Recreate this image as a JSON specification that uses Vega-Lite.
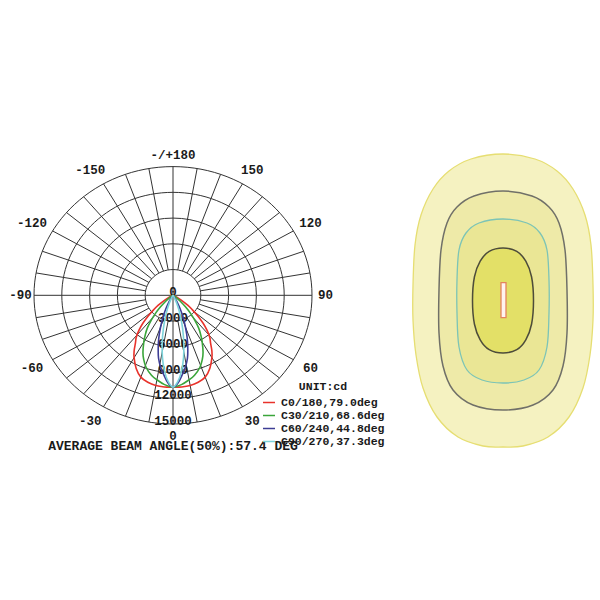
{
  "$schema": "https://vega.github.io/schema/vega-lite/v6.json",
  "background": "white",
  "padding": 0,
  "bounds": "flush",
  "spacing": 54,
  "config": {"view": {"stroke": null}},
  "datasets": {
    "curves": [
      {"p":"C0/180,79.0deg","a":-70,"cd":0},{"p":"C0/180,79.0deg","a":-66,"cd":100},{"p":"C0/180,79.0deg","a":-62,"cd":400},{"p":"C0/180,79.0deg","a":-58,"cd":1000},{"p":"C0/180,79.0deg","a":-54,"cd":2000},{"p":"C0/180,79.0deg","a":-51,"cd":2700},{"p":"C0/180,79.0deg","a":-48,"cd":3600},{"p":"C0/180,79.0deg","a":-45,"cd":4600},{"p":"C0/180,79.0deg","a":-42,"cd":5500},{"p":"C0/180,79.0deg","a":-39,"cd":6300},{"p":"C0/180,79.0deg","a":-36,"cd":6900},{"p":"C0/180,79.0deg","a":-33,"cd":7700},{"p":"C0/180,79.0deg","a":-30,"cd":8400},{"p":"C0/180,79.0deg","a":-25,"cd":9400},{"p":"C0/180,79.0deg","a":-20,"cd":10150},{"p":"C0/180,79.0deg","a":-15,"cd":10500},{"p":"C0/180,79.0deg","a":-10,"cd":10680},{"p":"C0/180,79.0deg","a":-5,"cd":10720},{"p":"C0/180,79.0deg","a":0,"cd":10700},{"p":"C0/180,79.0deg","a":5,"cd":10720},{"p":"C0/180,79.0deg","a":10,"cd":10680},{"p":"C0/180,79.0deg","a":15,"cd":10500},{"p":"C0/180,79.0deg","a":20,"cd":10150},{"p":"C0/180,79.0deg","a":25,"cd":9400},{"p":"C0/180,79.0deg","a":30,"cd":8400},{"p":"C0/180,79.0deg","a":33,"cd":7700},{"p":"C0/180,79.0deg","a":36,"cd":6900},{"p":"C0/180,79.0deg","a":39,"cd":6300},{"p":"C0/180,79.0deg","a":42,"cd":5500},{"p":"C0/180,79.0deg","a":45,"cd":4600},{"p":"C0/180,79.0deg","a":48,"cd":3600},{"p":"C0/180,79.0deg","a":51,"cd":2700},{"p":"C0/180,79.0deg","a":54,"cd":2000},{"p":"C0/180,79.0deg","a":58,"cd":1000},{"p":"C0/180,79.0deg","a":62,"cd":400},{"p":"C0/180,79.0deg","a":66,"cd":100},{"p":"C0/180,79.0deg","a":70,"cd":0},
      {"p":"C30/210,68.6deg","a":-60,"cd":0},{"p":"C30/210,68.6deg","a":-56,"cd":150},{"p":"C30/210,68.6deg","a":-52,"cd":500},{"p":"C30/210,68.6deg","a":-48,"cd":1200},{"p":"C30/210,68.6deg","a":-45,"cd":1900},{"p":"C30/210,68.6deg","a":-42,"cd":2800},{"p":"C30/210,68.6deg","a":-39,"cd":3700},{"p":"C30/210,68.6deg","a":-36,"cd":4700},{"p":"C30/210,68.6deg","a":-33,"cd":5500},{"p":"C30/210,68.6deg","a":-30,"cd":6300},{"p":"C30/210,68.6deg","a":-26,"cd":7400},{"p":"C30/210,68.6deg","a":-23,"cd":8100},{"p":"C30/210,68.6deg","a":-19,"cd":8900},{"p":"C30/210,68.6deg","a":-14,"cd":9600},{"p":"C30/210,68.6deg","a":-10,"cd":10000},{"p":"C30/210,68.6deg","a":-5,"cd":10450},{"p":"C30/210,68.6deg","a":0,"cd":10700},{"p":"C30/210,68.6deg","a":5,"cd":10450},{"p":"C30/210,68.6deg","a":10,"cd":10000},{"p":"C30/210,68.6deg","a":14,"cd":9600},{"p":"C30/210,68.6deg","a":19,"cd":8900},{"p":"C30/210,68.6deg","a":23,"cd":8100},{"p":"C30/210,68.6deg","a":26,"cd":7400},{"p":"C30/210,68.6deg","a":30,"cd":6300},{"p":"C30/210,68.6deg","a":33,"cd":5500},{"p":"C30/210,68.6deg","a":36,"cd":4700},{"p":"C30/210,68.6deg","a":39,"cd":3700},{"p":"C30/210,68.6deg","a":42,"cd":2800},{"p":"C30/210,68.6deg","a":45,"cd":1900},{"p":"C30/210,68.6deg","a":48,"cd":1200},{"p":"C30/210,68.6deg","a":52,"cd":500},{"p":"C30/210,68.6deg","a":56,"cd":150},{"p":"C30/210,68.6deg","a":60,"cd":0},
      {"p":"C60/240,44.8deg","a":-40,"cd":0},{"p":"C60/240,44.8deg","a":-36,"cd":100},{"p":"C60/240,44.8deg","a":-32,"cd":450},{"p":"C60/240,44.8deg","a":-29,"cd":1000},{"p":"C60/240,44.8deg","a":-26,"cd":1800},{"p":"C60/240,44.8deg","a":-24,"cd":2400},{"p":"C60/240,44.8deg","a":-22,"cd":3100},{"p":"C60/240,44.8deg","a":-20,"cd":3900},{"p":"C60/240,44.8deg","a":-18,"cd":4800},{"p":"C60/240,44.8deg","a":-16,"cd":5700},{"p":"C60/240,44.8deg","a":-14,"cd":6600},{"p":"C60/240,44.8deg","a":-12,"cd":7500},{"p":"C60/240,44.8deg","a":-9,"cd":8500},{"p":"C60/240,44.8deg","a":-6,"cd":9350},{"p":"C60/240,44.8deg","a":-3,"cd":10250},{"p":"C60/240,44.8deg","a":0,"cd":10700},{"p":"C60/240,44.8deg","a":3,"cd":10250},{"p":"C60/240,44.8deg","a":6,"cd":9350},{"p":"C60/240,44.8deg","a":9,"cd":8500},{"p":"C60/240,44.8deg","a":12,"cd":7500},{"p":"C60/240,44.8deg","a":14,"cd":6600},{"p":"C60/240,44.8deg","a":16,"cd":5700},{"p":"C60/240,44.8deg","a":18,"cd":4800},{"p":"C60/240,44.8deg","a":20,"cd":3900},{"p":"C60/240,44.8deg","a":22,"cd":3100},{"p":"C60/240,44.8deg","a":24,"cd":2400},{"p":"C60/240,44.8deg","a":26,"cd":1800},{"p":"C60/240,44.8deg","a":29,"cd":1000},{"p":"C60/240,44.8deg","a":32,"cd":450},{"p":"C60/240,44.8deg","a":36,"cd":100},{"p":"C60/240,44.8deg","a":40,"cd":0},
      {"p":"C90/270,37.3deg","a":-32,"cd":0},{"p":"C90/270,37.3deg","a":-28,"cd":300},{"p":"C90/270,37.3deg","a":-24,"cd":900},{"p":"C90/270,37.3deg","a":-21,"cd":1700},{"p":"C90/270,37.3deg","a":-18,"cd":2700},{"p":"C90/270,37.3deg","a":-15,"cd":4000},{"p":"C90/270,37.3deg","a":-12,"cd":5600},{"p":"C90/270,37.3deg","a":-9,"cd":7300},{"p":"C90/270,37.3deg","a":-6,"cd":8850},{"p":"C90/270,37.3deg","a":-3,"cd":10050},{"p":"C90/270,37.3deg","a":0,"cd":10700},{"p":"C90/270,37.3deg","a":3,"cd":10050},{"p":"C90/270,37.3deg","a":6,"cd":8850},{"p":"C90/270,37.3deg","a":9,"cd":7300},{"p":"C90/270,37.3deg","a":12,"cd":5600},{"p":"C90/270,37.3deg","a":15,"cd":4000},{"p":"C90/270,37.3deg","a":18,"cd":2700},{"p":"C90/270,37.3deg","a":21,"cd":1700},{"p":"C90/270,37.3deg","a":24,"cd":900},{"p":"C90/270,37.3deg","a":28,"cd":300},{"p":"C90/270,37.3deg","a":32,"cd":0}
    ],
    "rings": [{"v":3000},{"v":6000},{"v":9000},{"v":12000},{"v":15000}],
    "radials": [
      {"a":0,"r0":0},{"a":10,"r0":3000},{"a":20,"r0":3000},{"a":30,"r0":3000},{"a":40,"r0":3000},{"a":50,"r0":3000},{"a":60,"r0":3000},{"a":70,"r0":3000},{"a":80,"r0":3000},
      {"a":90,"r0":0},{"a":100,"r0":3000},{"a":110,"r0":3000},{"a":120,"r0":3000},{"a":130,"r0":3000},{"a":140,"r0":3000},{"a":150,"r0":3000},{"a":160,"r0":3000},{"a":170,"r0":3000},
      {"a":180,"r0":0},{"a":190,"r0":3000},{"a":200,"r0":3000},{"a":210,"r0":3000},{"a":220,"r0":3000},{"a":230,"r0":3000},{"a":240,"r0":3000},{"a":250,"r0":3000},{"a":260,"r0":3000},
      {"a":270,"r0":0},{"a":280,"r0":3000},{"a":290,"r0":3000},{"a":300,"r0":3000},{"a":310,"r0":3000},{"a":320,"r0":3000},{"a":330,"r0":3000},{"a":340,"r0":3000},{"a":350,"r0":3000}
    ],
    "alabels": [
      {"a":180,"t":"-/+180"},{"a":-150,"t":"-150"},{"a":150,"t":"150"},{"a":-120,"t":"-120"},{"a":120,"t":"120"},{"a":-90,"t":"-90"},{"a":90,"t":"90"},{"a":-60,"t":"-60"},{"a":60,"t":"60"},{"a":-30,"t":"-30"},{"a":30,"t":"30"},{"a":0,"t":"0"}
    ],
    "rlabels": [{"v":0,"t":"0"},{"v":3000,"t":"3000"},{"v":6000,"t":"6000"},{"v":9000,"t":"9000"},{"v":12000,"t":"12000"},{"v":15000,"t":"15000"}],
    "contours": [
      {"lvl":1,"i":0,"x":0,"y":7.3},{"lvl":1,"i":1,"x":1.6,"y":7.05},{"lvl":1,"i":2,"x":2.7,"y":6.45},{"lvl":1,"i":3,"x":3.5,"y":5.55},{"lvl":1,"i":4,"x":4.1,"y":4.25},{"lvl":1,"i":5,"x":4.4,"y":2.75},{"lvl":1,"i":6,"x":4.5,"y":0.75},{"lvl":1,"i":7,"x":4.5,"y":-1.0},{"lvl":1,"i":8,"x":4.35,"y":-2.75},{"lvl":1,"i":9,"x":4.0,"y":-4.4},{"lvl":1,"i":10,"x":3.3,"y":-5.85},{"lvl":1,"i":11,"x":2.25,"y":-6.85},{"lvl":1,"i":12,"x":1.0,"y":-7.3},{"lvl":1,"i":13,"x":0,"y":-7.35},{"lvl":1,"i":14,"x":-1.0,"y":-7.3},{"lvl":1,"i":15,"x":-2.25,"y":-6.85},{"lvl":1,"i":16,"x":-3.3,"y":-5.85},{"lvl":1,"i":17,"x":-4.0,"y":-4.4},{"lvl":1,"i":18,"x":-4.35,"y":-2.75},{"lvl":1,"i":19,"x":-4.5,"y":-1.0},{"lvl":1,"i":20,"x":-4.5,"y":0.75},{"lvl":1,"i":21,"x":-4.4,"y":2.75},{"lvl":1,"i":22,"x":-4.1,"y":4.25},{"lvl":1,"i":23,"x":-3.5,"y":5.55},{"lvl":1,"i":24,"x":-2.7,"y":6.45},{"lvl":1,"i":25,"x":-1.6,"y":7.05},
      {"lvl":2,"i":0,"x":0,"y":5.45},{"lvl":2,"i":1,"x":1.45,"y":5.2},{"lvl":2,"i":2,"x":2.3,"y":4.65},{"lvl":2,"i":3,"x":2.8,"y":3.85},{"lvl":2,"i":4,"x":3.1,"y":2.5},{"lvl":2,"i":5,"x":3.2,"y":0.5},{"lvl":2,"i":6,"x":3.2,"y":-1.65},{"lvl":2,"i":7,"x":3.0,"y":-3.3},{"lvl":2,"i":8,"x":2.5,"y":-4.5},{"lvl":2,"i":9,"x":1.5,"y":-5.25},{"lvl":2,"i":10,"x":0,"y":-5.5},{"lvl":2,"i":11,"x":-1.5,"y":-5.25},{"lvl":2,"i":12,"x":-2.5,"y":-4.5},{"lvl":2,"i":13,"x":-3.0,"y":-3.3},{"lvl":2,"i":14,"x":-3.2,"y":-1.65},{"lvl":2,"i":15,"x":-3.2,"y":0.5},{"lvl":2,"i":16,"x":-3.1,"y":2.5},{"lvl":2,"i":17,"x":-2.8,"y":3.85},{"lvl":2,"i":18,"x":-2.3,"y":4.65},{"lvl":2,"i":19,"x":-1.45,"y":5.2},
      {"lvl":3,"i":0,"x":0,"y":4.05},{"lvl":3,"i":1,"x":1.2,"y":3.85},{"lvl":3,"i":2,"x":1.85,"y":3.35},{"lvl":3,"i":3,"x":2.2,"y":2.5},{"lvl":3,"i":4,"x":2.3,"y":1.0},{"lvl":3,"i":5,"x":2.3,"y":-0.65},{"lvl":3,"i":6,"x":2.2,"y":-2.35},{"lvl":3,"i":7,"x":1.8,"y":-3.5},{"lvl":3,"i":8,"x":1.05,"y":-4.0},{"lvl":3,"i":9,"x":0,"y":-4.15},{"lvl":3,"i":10,"x":-1.05,"y":-4.0},{"lvl":3,"i":11,"x":-1.8,"y":-3.5},{"lvl":3,"i":12,"x":-2.2,"y":-2.35},{"lvl":3,"i":13,"x":-2.3,"y":-0.65},{"lvl":3,"i":14,"x":-2.3,"y":1.0},{"lvl":3,"i":15,"x":-2.2,"y":2.5},{"lvl":3,"i":16,"x":-1.85,"y":3.35},{"lvl":3,"i":17,"x":-1.2,"y":3.85},
      {"lvl":4,"i":0,"x":0,"y":2.6},{"lvl":4,"i":1,"x":0.69,"y":2.43},{"lvl":4,"i":2,"x":1.14,"y":1.94},{"lvl":4,"i":3,"x":1.43,"y":1.15},{"lvl":4,"i":4,"x":1.525,"y":-0.03},{"lvl":4,"i":5,"x":1.43,"y":-1.2},{"lvl":4,"i":6,"x":1.14,"y":-1.99},{"lvl":4,"i":7,"x":0.69,"y":-2.48},{"lvl":4,"i":8,"x":0,"y":-2.65},{"lvl":4,"i":9,"x":-0.69,"y":-2.48},{"lvl":4,"i":10,"x":-1.14,"y":-1.99},{"lvl":4,"i":11,"x":-1.43,"y":-1.2},{"lvl":4,"i":12,"x":-1.525,"y":-0.03},{"lvl":4,"i":13,"x":-1.43,"y":1.15},{"lvl":4,"i":14,"x":-1.14,"y":1.94},{"lvl":4,"i":15,"x":-0.69,"y":2.43}
    ],
    "box": [{"x1":-0.1,"x2":0.15,"y1":-0.885,"y2":0.865}]
  },
  "hconcat": [
    {
      "width": 346,
      "height": 440,
      "title": {"text": "AVERAGE BEAM ANGLE(50%):57.4 DEG", "orient": "bottom", "anchor": "middle", "font": "Liberation Mono", "fontSize": 13, "fontWeight": "bold", "color": "#1a1a1a", "offset": -2.5, "baseline": "top"},
      "layer": [
        {
          "data": {"name": "rings"},
          "mark": {"type": "point", "shape": "M1,0C1,0.5114 0.5523,0.9259 0,0.9259C-0.5523,0.9259 -1,0.5114 -1,0C-1,-0.5114 -0.5523,-0.9259 0,-0.9259C0.5523,-0.9259 1,-0.5114 1,0Z", "filled": false, "stroke": "#333333", "strokeWidth": 1, "opacity": 1},
          "encoding": {
            "x": {"datum": 0, "type": "quantitative", "scale": {"domain": [-18669, 18669], "nice": false, "zero": false}, "axis": null},
            "y": {"datum": 0, "type": "quantitative", "scale": {"domain": [-16865, 34417], "nice": false, "zero": false}, "axis": null},
            "size": {"field": "v", "type": "quantitative", "scale": {"type": "pow", "exponent": 2, "domain": [0, 15000], "range": [0, 77284]}, "legend": null}
          }
        },
        {
          "data": {"name": "radials"},
          "transform": [
            {"calculate": "datum.r0 * sin(datum.a * PI / 180)", "as": "X1"},
            {"calculate": "-datum.r0 * cos(datum.a * PI / 180)", "as": "Y1"},
            {"calculate": "15000 * sin(datum.a * PI / 180)", "as": "X2"},
            {"calculate": "-15000 * cos(datum.a * PI / 180)", "as": "Y2"}
          ],
          "mark": {"type": "rule", "stroke": "#333333", "strokeWidth": 1},
          "encoding": {
            "x": {"field": "X1", "type": "quantitative", "scale": {"domain": [-18669, 18669], "nice": false, "zero": false}, "axis": null},
            "y": {"field": "Y1", "type": "quantitative", "scale": {"domain": [-16865, 34417], "nice": false, "zero": false}, "axis": null},
            "x2": {"field": "X2"},
            "y2": {"field": "Y2"}
          }
        },
        {
          "data": {"name": "alabels"},
          "transform": [
            {"filter": "datum.a >= 0 || datum.a == -90"},
            {"calculate": "(16450 + 900 * pow(sin(2 * datum.a * PI / 180), 2)) * sin(datum.a * PI / 180)", "as": "X"},
            {"calculate": "-(16350 + 700 * pow(sin(2 * datum.a * PI / 180), 2)) * cos(datum.a * PI / 180)", "as": "Y"}
          ],
          "mark": {"type": "text", "font": "Liberation Mono", "fontSize": 12.5, "fontWeight": "bold", "fill": "#1a1a1a", "align": "center", "baseline": "middle"},
          "encoding": {
            "x": {"field": "X", "type": "quantitative", "scale": {"domain": [-18669, 18669], "nice": false, "zero": false}, "axis": null},
            "y": {"field": "Y", "type": "quantitative", "scale": {"domain": [-16865, 34417], "nice": false, "zero": false}, "axis": null},
            "text": {"field": "t"}
          }
        },
        {
          "data": {"name": "alabels"},
          "transform": [
            {"filter": "datum.a < 0 && datum.a != -90"},
            {"calculate": "(16450 + 900 * pow(sin(2 * datum.a * PI / 180), 2)) * sin(datum.a * PI / 180)", "as": "X"},
            {"calculate": "-(16350 + 700 * pow(sin(2 * datum.a * PI / 180), 2)) * cos(datum.a * PI / 180)", "as": "Y"}
          ],
          "mark": {"type": "text", "font": "Liberation Mono", "fontSize": 12.5, "fontWeight": "bold", "fill": "#1a1a1a", "align": "center", "baseline": "middle", "dx": -3.5},
          "encoding": {
            "x": {"field": "X", "type": "quantitative", "scale": {"domain": [-18669, 18669], "nice": false, "zero": false}, "axis": null},
            "y": {"field": "Y", "type": "quantitative", "scale": {"domain": [-16865, 34417], "nice": false, "zero": false}, "axis": null},
            "text": {"field": "t"}
          }
        },
        {
          "data": {"name": "rlabels"},
          "transform": [{"calculate": "-datum.v", "as": "Y"}],
          "mark": {"type": "text", "font": "Liberation Mono", "fontSize": 12.5, "fontWeight": "bold", "fill": "#1a1a1a", "align": "center", "baseline": "middle", "dy": -3},
          "encoding": {
            "x": {"datum": 0, "type": "quantitative", "scale": {"domain": [-18669, 18669], "nice": false, "zero": false}, "axis": null},
            "y": {"field": "Y", "type": "quantitative", "scale": {"domain": [-16865, 34417], "nice": false, "zero": false}, "axis": null},
            "text": {"field": "t"}
          }
        },
        {
          "data": {"name": "curves"},
          "transform": [
            {"calculate": "datum.cd * sin(datum.a * PI / 180)", "as": "X"},
            {"calculate": "-datum.cd * cos(datum.a * PI / 180)", "as": "Y"}
          ],
          "mark": {"type": "line", "interpolate": "cardinal", "strokeWidth": 1.6},
          "encoding": {
            "x": {"field": "X", "type": "quantitative", "scale": {"domain": [-18669, 18669], "nice": false, "zero": false}, "axis": null},
            "y": {"field": "Y", "type": "quantitative", "scale": {"domain": [-16865, 34417], "nice": false, "zero": false}, "axis": null},
            "order": {"field": "a", "type": "quantitative"},
            "color": {
              "field": "p", "type": "nominal",
              "scale": {"domain": ["C0/180,79.0deg", "C30/210,68.6deg", "C60/240,44.8deg", "C90/270,37.3deg"], "range": ["#e8322b", "#3aa53a", "#3d3d94", "#7dd3da"]},
              "legend": {
                "title": "UNIT:cd", "orient": "none", "legendX": 262, "legendY": 381, "padding": 0,
                "titleFont": "Liberation Mono", "titleFontSize": 11.5, "titleFontWeight": "bold", "titleColor": "#1a1a1a", "titleAnchor": "middle", "titlePadding": 3,
                "labelFont": "Liberation Mono", "labelFontSize": 11.5, "labelFontWeight": "bold", "labelColor": "#1a1a1a", "labelOffset": 5, "labelLimit": 300,
                "symbolType": "stroke", "symbolSize": 144, "symbolStrokeWidth": 1.5, "rowPadding": 0
              }
            }
          }
        }
      ]
    },
    {
      "width": 200,
      "height": 600,
      "layer": [
        {
          "data": {"name": "contours"},
          "transform": [{"filter": "datum.lvl == 1"}],
          "mark": {"type": "line", "interpolate": "cardinal-closed", "fill": "#f5f2c1", "stroke": "#e6de72", "strokeWidth": 1.3},
          "encoding": {
            "x": {"field": "x", "type": "quantitative", "scale": {"domain": [-5.15, 4.85], "nice": false, "zero": false}, "axis": null},
            "y": {"field": "y", "type": "quantitative", "scale": {"domain": [-15, 15], "nice": false, "zero": false}, "axis": null},
            "order": {"field": "i", "type": "quantitative"}
          }
        },
        {
          "data": {"name": "contours"},
          "transform": [{"filter": "datum.lvl == 2"}],
          "mark": {"type": "line", "interpolate": "cardinal-closed", "fill": "#eeeaa8", "stroke": "#707068", "strokeWidth": 1.5},
          "encoding": {
            "x": {"field": "x", "type": "quantitative", "scale": {"domain": [-5.15, 4.85], "nice": false, "zero": false}, "axis": null},
            "y": {"field": "y", "type": "quantitative", "scale": {"domain": [-15, 15], "nice": false, "zero": false}, "axis": null},
            "order": {"field": "i", "type": "quantitative"}
          }
        },
        {
          "data": {"name": "contours"},
          "transform": [{"filter": "datum.lvl == 3"}],
          "mark": {"type": "line", "interpolate": "cardinal-closed", "fill": "#eae695", "stroke": "#7cc4b6", "strokeWidth": 1.3},
          "encoding": {
            "x": {"field": "x", "type": "quantitative", "scale": {"domain": [-5.15, 4.85], "nice": false, "zero": false}, "axis": null},
            "y": {"field": "y", "type": "quantitative", "scale": {"domain": [-15, 15], "nice": false, "zero": false}, "axis": null},
            "order": {"field": "i", "type": "quantitative"}
          }
        },
        {
          "data": {"name": "contours"},
          "transform": [{"filter": "datum.lvl == 4"}],
          "mark": {"type": "line", "interpolate": "cardinal-closed", "fill": "#e3e067", "stroke": "#4d4c3a", "strokeWidth": 1.5},
          "encoding": {
            "x": {"field": "x", "type": "quantitative", "scale": {"domain": [-5.15, 4.85], "nice": false, "zero": false}, "axis": null},
            "y": {"field": "y", "type": "quantitative", "scale": {"domain": [-15, 15], "nice": false, "zero": false}, "axis": null},
            "order": {"field": "i", "type": "quantitative"}
          }
        },
        {
          "data": {"name": "box"},
          "mark": {"type": "rect", "fill": "#fff3ef", "stroke": "#e4845e", "strokeWidth": 1.3},
          "encoding": {
            "x": {"field": "x1", "type": "quantitative", "scale": {"domain": [-5.15, 4.85], "nice": false, "zero": false}, "axis": null},
            "x2": {"field": "x2"},
            "y": {"field": "y1", "type": "quantitative", "scale": {"domain": [-15, 15], "nice": false, "zero": false}, "axis": null},
            "y2": {"field": "y2"}
          }
        }
      ]
    }
  ]
}
